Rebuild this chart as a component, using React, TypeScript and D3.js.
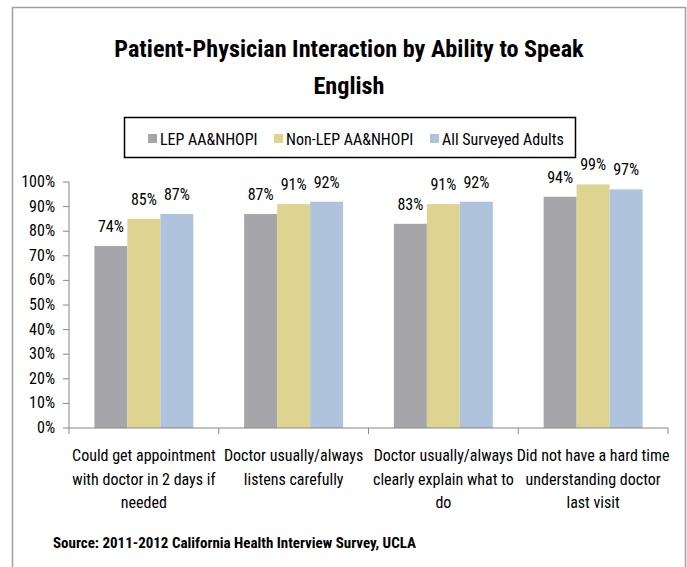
import React from "react";
import * as d3 from "d3";

const categories: string[][] = [
  ["Could get appointment", "with doctor in 2 days if", "needed"],
  ["Doctor usually/always", "listens carefully"],
  ["Doctor usually/always", "clearly explain what to", "do"],
  ["Did not have a hard time", "understanding doctor", "last visit"],
];
const seriesNames = ["LEP AA&NHOPI", "Non-LEP AA&NHOPI", "All Surveyed Adults"];
const lepValues = [74, 87, 83, 94];
const nonLepValues = [85, 91, 91, 99];
const allValues = [87, 92, 92, 97];
const yTicks = [0, 10, 20, 30, 40, 50, 60, 70, 80, 90, 100];
const colors = ["#A6A6AA", "#DED491", "#AFC3DD"];

const FONT = "'Liberation Sans Narrow', 'Roboto Condensed', 'DejaVu Sans Condensed', 'Liberation Sans', sans-serif";

export default function App() {
  const W = 687, H = 567;
  const left = 69, right = 668, top = 182, bottom = 428;
  const series = [lepValues, nonLepValues, allValues];
  const x0 = d3.scaleBand<number>().domain(d3.range(categories.length)).range([left, right]).padding(0);
  const x1 = d3.scaleBand<number>().domain([0, 1, 2]).range([0, x0.bandwidth()]).paddingInner(0).paddingOuter(0.77);
  const y = d3.scaleLinear().domain([0, 100]).range([bottom, top]);
  const axisColor = "#868686";

  return (
    <svg width={W} height={H} style={{ position: "absolute", left: 0, top: 0 }} fontFamily={FONT}>
      <rect x={0} y={0} width={W} height={H} fill="#fff" />
      <path d={`M12.5,${H} V7.5 H685.5 V${H}`} fill="none" stroke="#A0A0A0" strokeWidth={1.5} />
      <text x={349} y={57} textAnchor="middle" fontWeight="bold" fontSize={24.2} fill="#000">
        Patient-Physician Interaction by Ability to Speak
      </text>
      <text x={349} y={94} textAnchor="middle" fontWeight="bold" fontSize={24.2} fill="#000">
        English
      </text>
      {/* legend */}
      <rect x={124.5} y={117.5} width={451} height={40} fill="#fff" stroke="#000" strokeWidth={1.5} />
      {seriesNames.map((n, i) => {
        const lx = [148, 274, 430][i];
        return (
          <g key={n}>
            <rect x={lx} y={134} width={9} height={9} fill={colors[i]} />
            <text x={lx + 12} y={145} fontSize={16} fill="#000">{n}</text>
          </g>
        );
      })}
      {/* bars */}
      {series.map((vals, si) =>
        vals.map((v, ci) => {
          const bx = (x0(ci) as number) + (x1(si) as number);
          return (
            <g key={`${si}-${ci}`}>
              <rect x={bx} y={y(v)} width={x1.bandwidth()} height={bottom - y(v)} fill={colors[si]} />
              <text x={bx + x1.bandwidth() / 2} y={y(v) - 14} textAnchor="middle" fontSize={16} fill="#000">
                {v}%
              </text>
            </g>
          );
        })
      )}
      {/* y axis */}
      <line x1={left} x2={left} y1={top} y2={bottom} stroke={axisColor} />
      {yTicks.map((t) => (
        <g key={t}>
          <line x1={left - 6} x2={left} y1={y(t)} y2={y(t)} stroke={axisColor} />
          <text x={55} y={y(t) + 5} textAnchor="end" fontSize={16} fill="#000">{t}%</text>
        </g>
      ))}
      {/* x axis */}
      <line x1={left} x2={right} y1={bottom} y2={bottom} stroke={axisColor} />
      {d3.range(categories.length + 1).map((i) => {
        const tx = i < categories.length ? (x0(i) as number) : right;
        return <line key={i} x1={tx} x2={tx} y1={bottom} y2={bottom + 6} stroke={axisColor} />;
      })}
      {categories.map((lines, ci) => (
        <text key={ci} textAnchor="middle" fontSize={16} fill="#000">
          {lines.map((l, li) => (
            <tspan key={li} x={(x0(ci) as number) + x0.bandwidth() / 2} y={461 + li * 23.5}>{l}</tspan>
          ))}
        </text>
      ))}
      <text x={53} y={548} fontWeight="bold" fontSize={15} fill="#000">
        Source: 2011-2012 California Health Interview Survey, UCLA
      </text>
    </svg>
  );
}
